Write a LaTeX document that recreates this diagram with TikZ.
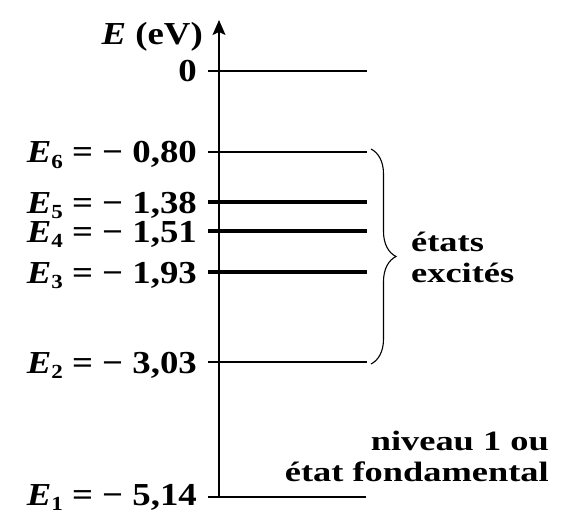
\documentclass[tikz,border=0pt]{standalone}
\usepackage{fontspec}
\setmainfont{Liberation Serif}[
  FakeStretch=1.3,
  BoldFeatures={FakeStretch=1.3},
  BoldItalicFeatures={FakeStretch=1.3}]
\newfontfamily\lblfont{Liberation Serif}[
  FakeStretch=1.15,
  BoldFeatures={FakeStretch=1.15},
  BoldItalicFeatures={FakeStretch=1.15}]
\usetikzlibrary{arrows.meta,decorations.pathreplacing}

\newcommand{\En}[1]{\textit{E}\raisebox{-0.35ex}{\fontsize{20}{20}\selectfont #1}}

\begin{document}
\begin{tikzpicture}[x=1pt,y=-1pt,line cap=butt,
  lbl/.style={font=\lblfont\fontsize{32}{34}\selectfont\bfseries,anchor=base east,inner sep=0pt},
  txt/.style={font=\fontsize{28}{31}\selectfont\bfseries,inner sep=0pt},
  thinlevel/.style={line width=1.8pt},
  thicklevel/.style={line width=3.2pt}]
\useasboundingbox (0,0) rectangle (564,513);
% energy axis
\coordinate (axbot) at (219,497);
\coordinate (axtop) at (219,20);
\draw[-{Stealth[length=15pt,width=13pt,inset=3pt]},line width=1.6pt] (axbot) -- (axtop);
\node[lbl] (unit) at (203,45) {\textit{E} (eV)};
% levels
\coordinate (l0) at (208,71);  \coordinate (r0) at (367,71);
\coordinate (l6) at (208,152); \coordinate (r6) at (367,152);
\coordinate (l5) at (208,202); \coordinate (r5) at (367,202);
\coordinate (l4) at (208,231); \coordinate (r4) at (367,231);
\coordinate (l3) at (208,272); \coordinate (r3) at (367,272);
\coordinate (l2) at (208,362); \coordinate (r2) at (367,362);
\coordinate (l1) at (208,497); \coordinate (r1) at (366,497);
\draw[thinlevel] (l0) -- (r0);
\draw[thinlevel] (l6) -- (r6);
\draw[thicklevel] (l5) -- (r5);
\draw[thicklevel] (l4) -- (r4);
\draw[thicklevel] (l3) -- (r3);
\draw[thinlevel] (l2) -- (r2);
\draw[thinlevel] (l1) -- (r1);
\node[lbl] (n0) at (197,82) {0};
\node[lbl] (n6) at (197,163) {\En{6} = − 0,80};
\node[lbl] (n5) at (197,213) {\En{5} = − 1,38};
\node[lbl] (n4) at (197,242) {\En{4} = − 1,51};
\node[lbl] (n3) at (197,283) {\En{3} = − 1,93};
\node[lbl] (n2) at (197,373) {\En{2} = − 3,03};
\node[lbl] (n1) at (197,505) {\En{1} = − 5,14};
% excited states
\coordinate (brtop) at (371,149);
\coordinate (brbot) at (371,364);
\draw[decorate,decoration={brace,amplitude=25pt},line width=1.1pt] (brtop) -- (brbot);
\node[txt,anchor=west,align=left] (exc) at (411,257) {états\\excités};
\node[txt,anchor=east,align=right] (fond) at (549,456) {niveau 1 ou\\état fondamental};
\end{tikzpicture}
\end{document}
